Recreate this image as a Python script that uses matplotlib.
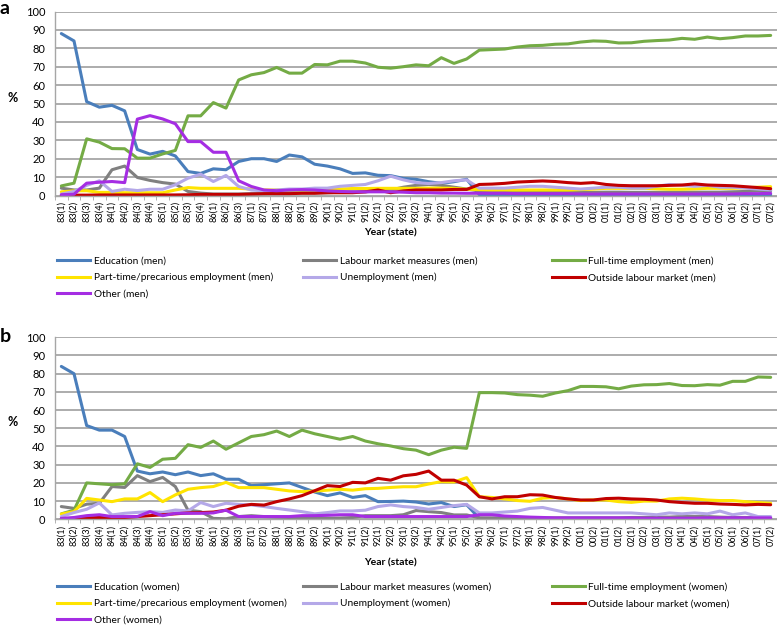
import numpy as np
import matplotlib
matplotlib.use('Agg')
import matplotlib.pyplot as plt
from matplotlib.lines import Line2D

plt.rcParams['font.family'] = ['Lato', 'DejaVu Sans']

# DATA ##########################################
periods = ['83(1)', '83(2)', '83(3)', '83(4)', '84(1)', '84(2)', '84(3)', '84(4)',
           '85(1)', '85(2)', '85(3)', '85(4)', '86(1)', '86(2)', '86(3)',
           '87(1)', '87(2)', '88(1)', '88(2)', '89(1)', '89(2)', '90(1)', '90(2)',
           '91(1)', '91(2)', '92(1)', '92(2)', '93(1)', '93(2)', '94(1)', '94(2)',
           '95(1)', '95(2)', '96(1)', '96(2)', '97(1)', '97(2)', '98(1)', '98(2)',
           '99(1)', '99(2)', '00(1)', '00(2)', '01(1)', '01(2)', '02(1)', '02(2)',
           '03(1)', '03(2)', '04(1)', '04(2)', '05(1)', '05(2)', '06(1)', '06(2)',
           '07(1)', '07(2)']

# men (panel a)
edu_m = [88, 84, 51, 48, 49, 46, 25, 22.5, 24, 21.5, 13, 12, 14.5, 14, 18.5,
         20, 20, 18.5, 22, 21, 17, 16, 14.5, 12, 12.3, 11, 10.8, 9.3, 8.8, 7.5, 6.6,
         7.5, 8.8, 0.5, 0.4, 0.4, 0.4, 0.4, 0.4, 0.4, 0.4, 0.4, 0.4, 0.4, 0.4, 0.4, 0.4,
         0.4, 0.4, 0.4, 0.4, 0.4, 0.4, 0.4, 0.4, 0.4, 0.4]
lmm_m = [4, 3, 3, 4, 14, 16, 9.8, 8.2, 7, 6.2, 2.2, 1.3, 0.8, 0.8, 0.8,
         1, 1, 1.2, 1.5, 1.5, 1.5, 1.5, 1.8, 2, 2, 2.5, 3, 4.5, 5.5, 6, 5.5,
         4.5, 3.5, 2.5, 2, 2, 2, 1.8, 1.8, 1.8, 1.7, 1.7, 1.7, 1.8, 1.8, 1.7, 1.7,
         1.7, 1.8, 1.8, 1.8, 1.8, 1.8, 2, 2.2, 2.5, 2.6]
ft_m = [5.2, 6.7, 30.8, 29, 25.5, 25.4, 20.3, 20.3, 22.6, 24.5, 43.3, 43.3, 50.5, 47.5, 62.8,
        65.6, 66.8, 69.6, 66.5, 66.5, 71.2, 71, 73, 73, 72, 69.7, 69.2, 70, 71, 70.5, 74.9,
        71.8, 74.2, 79, 79.3, 79.6, 80.7, 81.4, 81.6, 82.2, 82.4, 83.4, 84, 83.8, 82.9, 83, 83.8,
        84.2, 84.5, 85.4, 84.9, 86.1, 85.2, 85.8, 86.7, 86.7, 87]
pt_m = [2, 2.5, 2.6, 1.7, 1.7, 1.5, 1.5, 1.5, 1.5, 3, 4.3, 3.9, 3.9, 3.9, 3.9,
        3.5, 3, 3, 3, 3, 3, 3.5, 3.5, 3.8, 3.8, 3.9, 3.9, 3.9, 3.9, 4, 4,
        3.9, 3.4, 3.2, 3, 3, 3, 3, 3, 3, 3, 3.2, 3.5, 3.9, 3.9, 3.9, 3.9,
        3.6, 3.4, 3.4, 3.6, 3.9, 3.9, 3.9, 4.2, 4.5, 4.8]
unemp_m = [0.8, 2.2, 5.5, 8, 2.2, 3.4, 2.7, 3.4, 3.4, 5.8, 9.4, 11.6, 7.6, 10.9, 4.9,
           3, 2.5, 3, 3.5, 3.5, 4, 4, 5, 5.5, 6, 8, 10.5, 8.5, 7, 6.5, 7,
           8, 8.5, 4, 4, 4, 4.5, 5, 5, 4.5, 4, 3.5, 4, 4.5, 4.5, 4, 4,
           5, 6, 5.5, 5, 5.5, 4.5, 4.5, 4, 3.5, 3]
out_m = [0.1, 0.2, 0.2, 0.3, 0.3, 0.3, 0.3, 0.3, 0.3, 0.3, 0.4, 0.6, 0.6, 0.6, 0.6,
         0.8, 1, 1, 1, 1.2, 1.2, 1.5, 1.5, 1.5, 2, 3, 1.5, 2.5, 3, 3, 3,
         3.3, 3.3, 6, 6.2, 6.6, 7.3, 7.6, 7.9, 7.6, 7, 6.6, 7, 6, 5.5, 5.3, 5.3,
         5.3, 5.5, 5.7, 6.3, 5.7, 5.5, 5.3, 4.8, 4.3, 3.7]
other_m = [0.4, 0.7, 6.7, 7.2, 7.6, 7, 41.5, 43.4, 41.6, 39, 29.3, 29.3, 23.5, 23.5, 8,
           4.9, 3, 2.6, 3, 3.2, 3, 2.5, 2.2, 2, 2, 2, 2, 1.8, 1.5, 1.5, 1.3,
           1.3, 1.2, 1.2, 1.2, 1.2, 1, 1, 1, 1, 1, 0.8, 0.8, 0.8, 0.8, 0.8, 0.8,
           0.8, 0.8, 0.8, 0.8, 0.8, 0.8, 0.8, 1, 1, 1.2]

# women (panel b)
edu_w = [84, 80, 51.5, 49, 49, 45.5, 26.5, 25, 26, 24.5, 26, 24, 25, 22, 22,
         18.5, 19, 19.5, 20, 17.5, 15, 13, 14.5, 12, 13, 9.7, 9.8, 10, 9.5, 8.4, 9.2,
         7, 8, 0.5, 0.3, 0.3, 0.3, 0.3, 0.3, 0.3, 0.3, 0.3, 0.3, 0.3, 0.3, 0.3, 0.3,
         0.3, 0.3, 0.3, 0.3, 0.3, 0.3, 0.3, 0.3, 0.3, 0.3]
lmm_w = [7, 6, 8.3, 8.8, 18, 17.5, 24, 20.7, 23, 18, 5, 4.2, 0.5, 0.3, 1.5,
         2, 1.5, 1.2, 1, 0.8, 0.7, 0.6, 0.7, 1, 2, 2, 2, 2.5, 4.8, 4.2, 3.7,
         2.4, 2.4, 0.8, 0.8, 0.8, 0.7, 0.7, 0.7, 0.8, 0.8, 0.8, 0.8, 0.8, 0.8, 1, 1,
         1.2, 1.2, 1.5, 1.5, 1.5, 1.2, 1, 1, 0.8, 0.6]
ft_w = [3, 5, 20, 19.5, 19, 19.5, 30.5, 28.5, 33, 33.5, 41, 39.5, 43, 38.5, 42,
        45.5, 46.5, 48.5, 45.5, 49, 47, 45.5, 44, 45.5, 43, 41.5, 40.3, 38.8, 38, 35.5, 38,
        39.6, 39, 69.6, 69.6, 69.4, 68.5, 68.2, 67.6, 69.4, 70.7, 73, 73, 72.8, 71.7, 73.2, 73.9,
        74, 74.6, 73.5, 73.4, 74, 73.7, 75.8, 75.8, 78.2, 78]
pt_w = [2.9, 4.2, 11.5, 10.6, 9.7, 11.2, 11.2, 14.7, 9.7, 13.4, 16.5, 17.4, 18, 20.3, 17.4,
        17.4, 17.4, 16.5, 15.6, 15.2, 15.5, 16, 16.5, 16, 16.8, 17, 17.5, 17.9, 17.9, 19.4, 20.7,
        20.5, 22.9, 12.4, 12, 11.2, 10.3, 9.9, 11.6, 12, 11.2, 10.3, 10.6, 10.6, 9.7, 9.3, 10,
        10, 11.2, 11.6, 11.2, 10.6, 10.3, 10.3, 9.7, 9.2, 8.8]
unemp_w = [1.5, 3.7, 5.5, 9, 2.4, 3.3, 3.8, 4.2, 3.8, 5.1, 4.6, 9.2, 7, 8.8, 8.2,
           7.9, 7, 6, 5.1, 4.2, 3, 3.7, 4.6, 4.6, 5, 7, 7.9, 7, 6.5, 5.5, 6.5,
           7.5, 8.2, 3.5, 3.5, 4, 4.5, 6, 6.5, 5, 3.5, 3.5, 3.5, 3.5, 3.5, 3.5, 3,
           2.5, 3.5, 3, 3.5, 3, 4.5, 2.5, 3.5, 1.5, 1.5]
out_w = [0.3, 0.3, 0.8, 1, 1, 1, 1.5, 2, 2.5, 3, 3.5, 3.7, 4, 5, 7.2,
         8.2, 7.8, 9.7, 11.2, 13, 15.7, 18.5, 18, 20.3, 20, 22.5, 21.5, 23.9, 24.7, 26.5, 21.5,
         21.5, 18.8, 12.4, 11.2, 12.4, 12.4, 13.5, 13.3, 12, 11.2, 10.6, 10.6, 11.4, 11.6, 11.2, 11,
         10.6, 9.7, 9.2, 8.8, 8.8, 8.4, 8.2, 7.9, 8.2, 8]
other_w = [0.5, 1, 2, 2.5, 1.5, 1.5, 1.5, 4.2, 2, 3.3, 3.3, 3.3, 3.5, 5, 1.5,
           1.5, 1.5, 1.5, 1.5, 2, 2, 2.2, 2.5, 2.5, 1.5, 1.5, 1.5, 1.5, 1.5, 1.5, 1.5,
           1.5, 1.5, 2.5, 2.5, 1.8, 1.5, 1.2, 1, 0.8, 0.8, 0.8, 0.8, 0.8, 0.8, 0.8, 0.6,
           0.6, 0.6, 0.6, 0.6, 0.8, 0.8, 0.8, 0.8, 0.8, 0.8]

series_names = ['Education', 'Labour market measures', 'Full-time employment',
                'Part-time/precarious employment', 'Unemployment',
                'Outside labour market', 'Other']
colors = ['#4A7EBB', '#808080', '#74AB45', '#FFE400', '#B4A8E8', '#C00000', '#A52DE3']

men = [edu_m, lmm_m, ft_m, pt_m, unemp_m, out_m, other_m]
women = [edu_w, lmm_w, ft_w, pt_w, unemp_w, out_w, other_w]

# FIGURE ########################################
fig = plt.figure(figsize=(7.77, 6.26), dpi=100)
x = np.arange(len(periods))
grid_c = '#A6A6A6'


def draw_panel(rect, data, who, letter, letter_y, xlab_y, leg_top):
    ax = fig.add_axes(rect)
    for vals, c in zip(data, colors):
        ax.plot(x, vals, color=c, lw=2.2, solid_joinstyle='round', solid_capstyle='round')

    ax.set_xlim(-0.5, len(periods) - 0.5)
    ax.set_ylim(0, 100)
    ax.set_yticks(np.arange(0, 101, 10))
    ax.yaxis.grid(True, color=grid_c, lw=1.3)
    ax.set_axisbelow(True)
    ax.tick_params(axis='y', length=0, pad=7, labelsize=8)

    ax.set_xticks(x)
    ax.set_xticklabels(periods, rotation=90, fontsize=6.6)
    ax.set_xticks(np.arange(-0.5, len(periods)), minor=True)
    ax.tick_params(axis='x', which='major', length=0, pad=4)
    ax.tick_params(axis='x', which='minor', length=3, color=grid_c)

    for s in ['top', 'right']:
        ax.spines[s].set_visible(False)
    ax.spines['left'].set_color(grid_c)
    ax.spines['bottom'].set_color(grid_c)
    ax.spines['left'].set_linewidth(1.0)
    ax.spines['bottom'].set_linewidth(1.0)

    ax.set_ylabel('%', rotation=0, fontsize=9, fontweight='bold')
    ax.yaxis.set_label_coords(-0.058, 0.5)

    fig.text(390 / 777, xlab_y, 'Year (state)', ha='center', va='center',
             fontsize=7.5, fontweight='bold')
    fig.text(0.0, letter_y, letter, ha='left', va='top', fontsize=14, fontweight='bold')

    # legend in 3 columns, row-major like Excel
    cols = [[0, 3, 6], [1, 4], [2, 5]]
    col_x = [57 / 777, 303 / 777, 552 / 777]
    for idx, cx in zip(cols, col_x):
        h = [Line2D([], [], color=colors[i], lw=2.2) for i in idx]
        l = ['%s (%s)' % (series_names[i], who) for i in idx]
        fig.legend(h, l, loc='upper left', bbox_to_anchor=(cx, leg_top), frameon=False,
                   borderpad=0, borderaxespad=0, handlelength=3.3, handletextpad=0.3,
                   labelspacing=0.75, fontsize=7.3)
    return ax


draw_panel([55 / 777, 1 - 195.5 / 626, 722 / 777, 184 / 626], men, 'men', 'a',
           1.0, 1 - 233 / 626, 1 - 256 / 626)
draw_panel([55 / 777, 1 - 519.3 / 626, 722 / 777, 182 / 626], women, 'women', 'b',
           1 - 328 / 626, 1 - 563 / 626, 1 - 582 / 626)

fig.savefig('out.png', dpi=100)
